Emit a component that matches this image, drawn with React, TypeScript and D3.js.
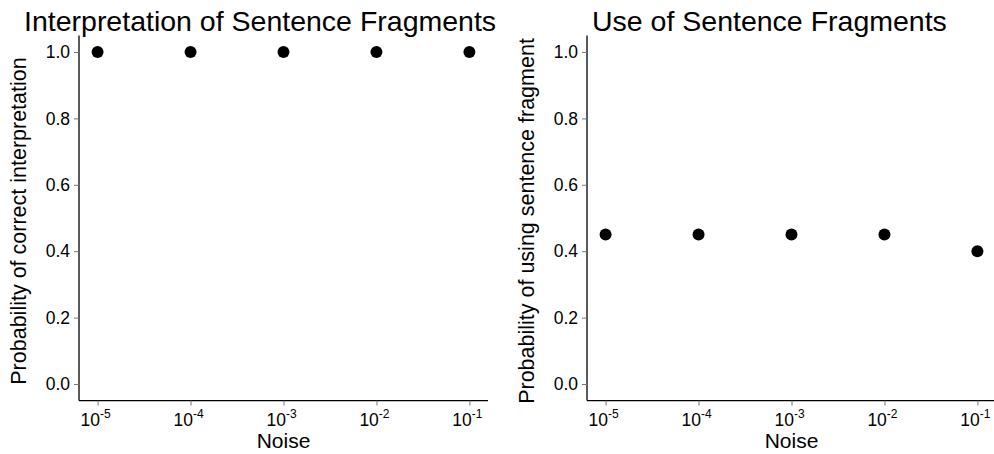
import * as d3 from 'd3';
import React, { useEffect, useRef } from 'react';

// noise levels (log10 exponents) and probabilities
const noiseExponents = [-5, -4, -3, -2, -1];
const interpretationProb = [1.0, 1.0, 1.0, 1.0, 1.0];
const fragmentUseProb = [0.45, 0.45, 0.45, 0.45, 0.4];
const yTicks = [0, 0.2, 0.4, 0.6, 0.8, 1.0];

const panels = [
    {
        title: 'Interpretation of Sentence Fragments',
        yLabel: 'Probability of correct interpretation',
        values: interpretationProb,
    },
    {
        title: 'Use of Sentence Fragments',
        yLabel: 'Probability of using sentence fragment',
        values: fragmentUseProb,
    },
];

const App: React.FC = () => {
    const svgRef = useRef<SVGSVGElement | null>(null);

    useEffect(() => {
        document.body.style.margin = '0';
        const width = 994;
        const height = 454;
        const font = '"Liberation Sans", Arial, sans-serif';

        const root = d3.select(svgRef.current);
        root.selectAll('*').remove();
        root.attr('width', width).attr('height', height).style('font-family', font).style('display', 'block');

        const y = d3.scaleLinear().domain([-0.05, 1.05]).range([400.6, 35.4]);
        const offsets = [79, 587];
        const titleX = [24, 592];

        panels.forEach((p, i) => {
            const left = offsets[i];
            const x = d3.scaleLinear().domain([-5.2, -0.8]).range([left, left + 409]);
            const g = root.append('g');

            // title
            g.append('text')
                .attr('x', titleX[i])
                .attr('y', 31)
                .attr('font-size', 28.5)
                .attr('fill', '#000')
                .text(p.title);

            // y axis
            const yAxis = g.append('g')
                .attr('transform', `translate(${left},0)`)
                .call(d3.axisLeft(y).tickValues(yTicks).tickSize(5).tickPadding(4).tickFormat(d3.format('.1f')));
            yAxis.select('.domain').attr('stroke', '#000').attr('stroke-width', 1.3)
                .attr('d', `M0,${y(1.05)}V${y(-0.05)}`);
            yAxis.selectAll('.tick line').attr('stroke', '#777');
            yAxis.selectAll('.tick text').attr('font-size', 17.5).attr('font-family', font).attr('fill', '#000');

            // x axis
            const xAxis = g.append('g')
                .attr('transform', `translate(0,${y(-0.05)})`)
                .call(d3.axisBottom(x).tickValues(noiseExponents).tickSize(5).tickPadding(4).tickFormat(() => ''));
            xAxis.select('.domain').attr('stroke', '#000').attr('stroke-width', 1.3)
                .attr('d', `M${left},0H${left + 409}`);
            xAxis.selectAll('.tick line').attr('stroke', '#777');

            noiseExponents.forEach(e => {
                const t = g.append('text')
                    .attr('x', x(e) - 2)
                    .attr('y', 426)
                    .attr('text-anchor', 'middle')
                    .attr('font-size', 17.5)
                    .attr('fill', '#000');
                t.append('tspan').text('10');
                t.append('tspan').attr('dy', -8).attr('font-size', 12).text(`${e}`);
            });

            g.append('text')
                .attr('x', x(-3))
                .attr('y', 448)
                .attr('text-anchor', 'middle')
                .attr('font-size', 21)
                .attr('fill', '#000')
                .text('Noise');

            g.append('text')
                .attr('transform', `translate(${left - 53},221) rotate(-90)`)
                .attr('text-anchor', 'middle')
                .attr('font-size', 21.5)
                .attr('fill', '#000')
                .text(p.yLabel);

            g.selectAll('circle.pt')
                .data(p.values)
                .enter()
                .append('circle')
                .attr('class', 'pt')
                .attr('cx', (_d, j) => x(noiseExponents[j]))
                .attr('cy', d => y(d))
                .attr('r', 6)
                .attr('fill', '#000');
        });
    }, []);

    return <svg ref={svgRef}></svg>;
};

export default App;
